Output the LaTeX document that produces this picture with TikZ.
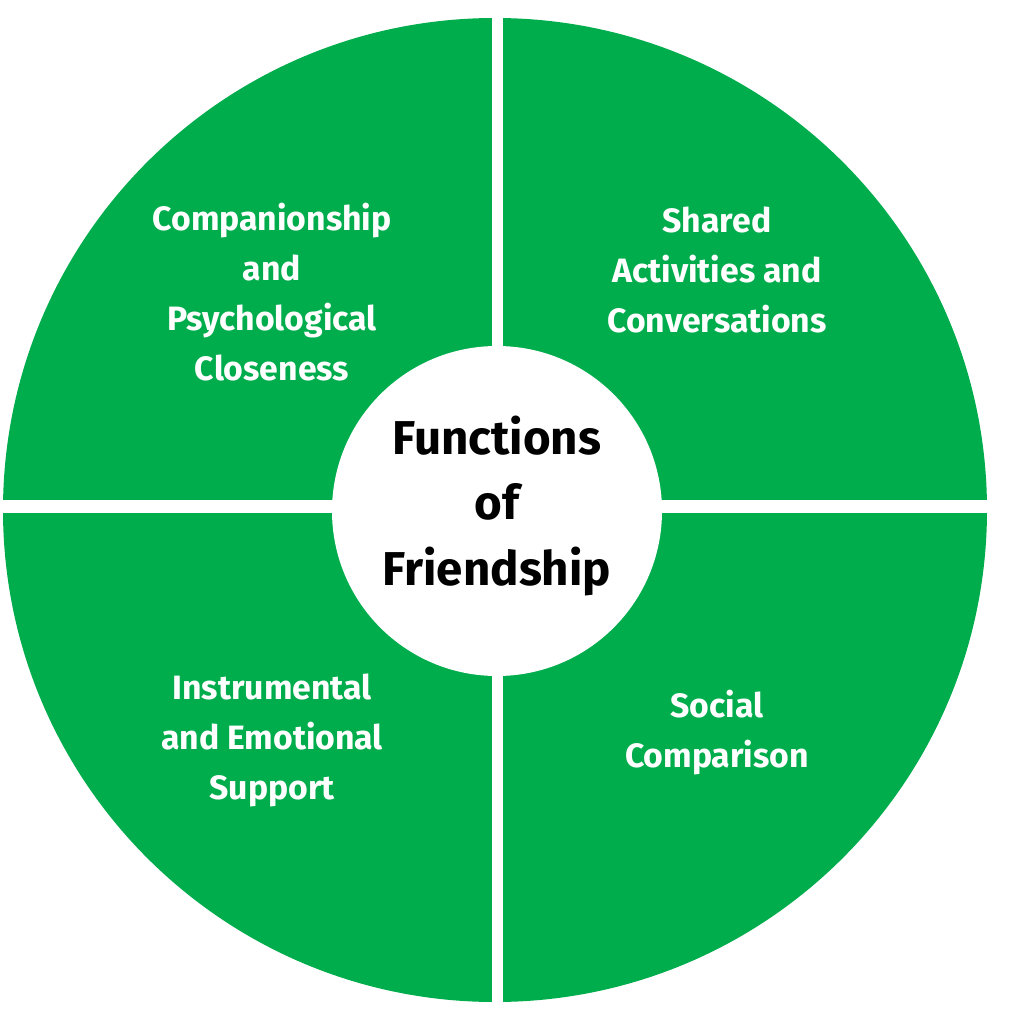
\documentclass[tikz,border=0pt]{standalone}
\usepackage{fontspec}
\setmainfont{Fira Sans}
\definecolor{grn}{RGB}{0,173,76}
\begin{document}
\begin{tikzpicture}[x=0.01cm,y=-0.01cm,
  lbl/.style={text=white,font=\bfseries\fontsize{9.6}{14.2}\selectfont,align=center},
  ttl/.style={text=black,font=\bfseries\fontsize{13.5}{18.5}\selectfont,align=center}]
\useasboundingbox (0,0) rectangle (1024,1024);
\fill[grn] (495,510) circle[radius=492];
\fill[white] (492,0) rectangle (503,1024);
\fill[white] (0,500) rectangle (1024,513);
\fill[white] (497,511) circle[radius=165];
\node[lbl] (tl) at (272,292) {Companionship\\and\\Psychological\\Closeness};
\node[lbl] (tr) at (717,270) {Shared\\Activities and\\Conversations};
\node[lbl] (bl) at (272,740) {Instrumental\\and Emotional\\Support};
\node[lbl] (br) at (717,733) {Social\\Comparison};
\node[ttl] (c) at (497,506) {Functions\\of\\Friendship};
\end{tikzpicture}
\end{document}
